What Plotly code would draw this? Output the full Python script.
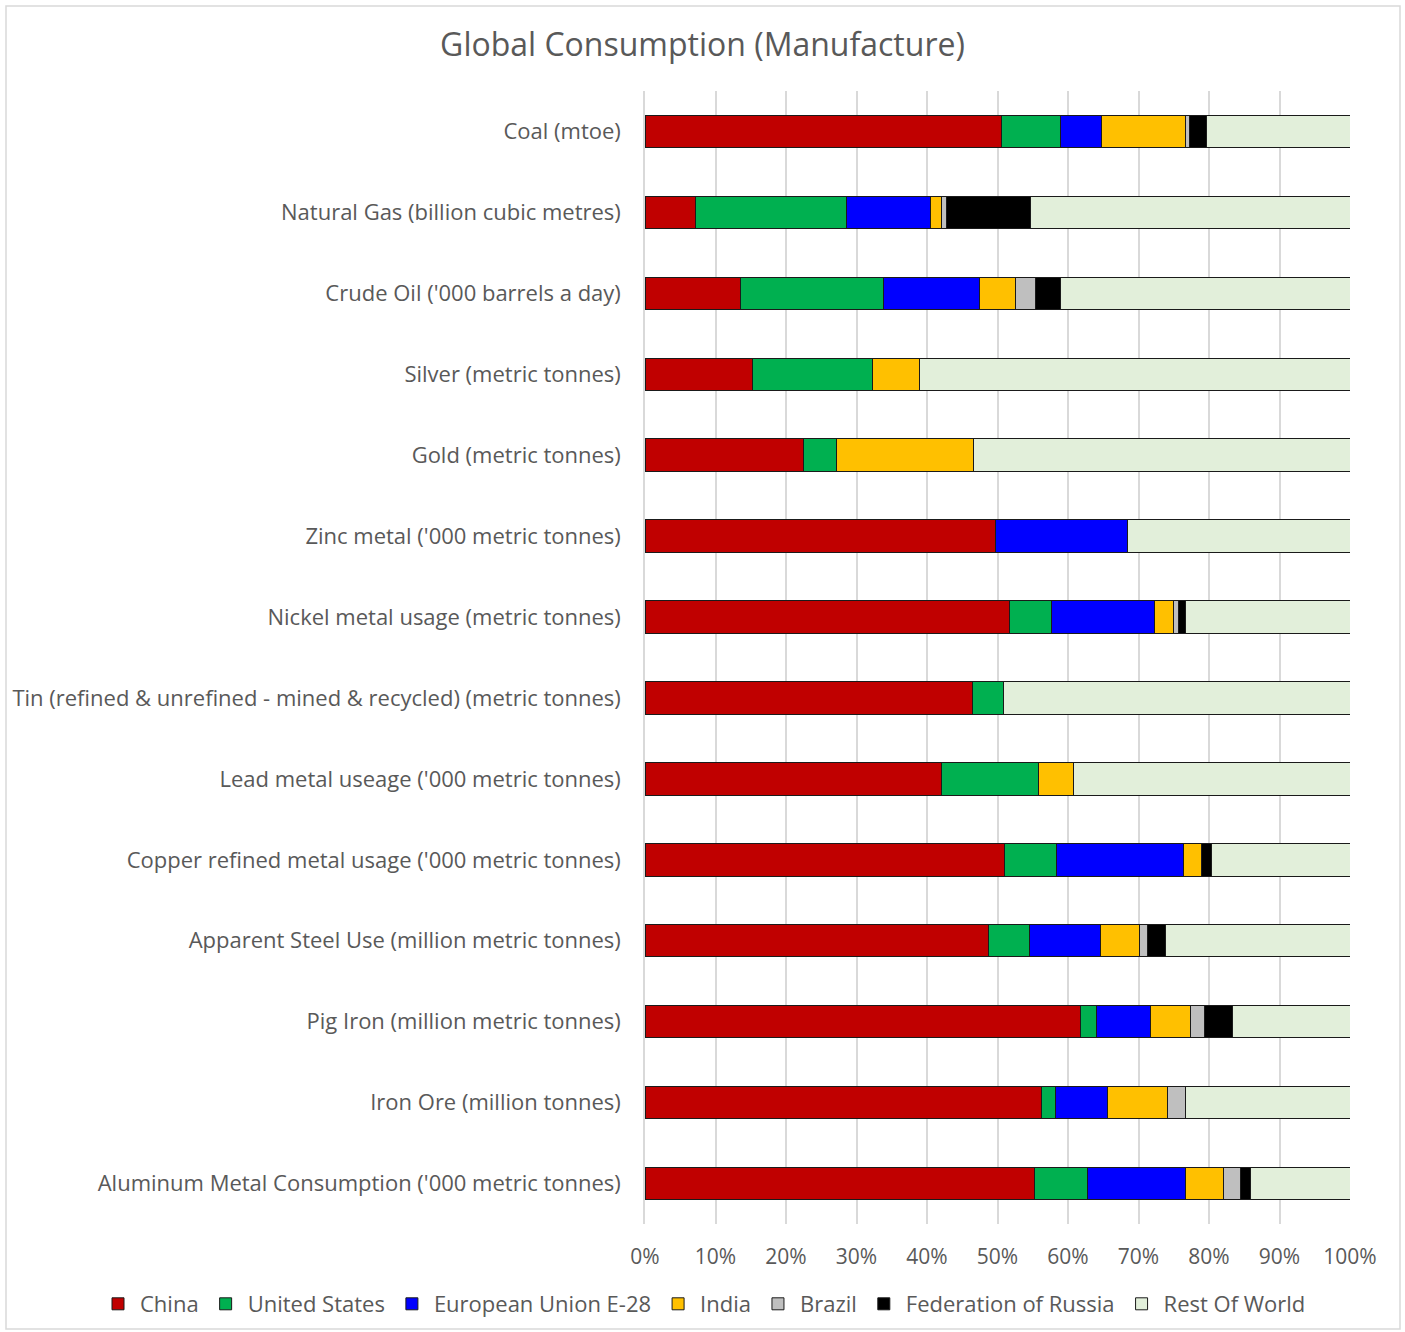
import plotly.graph_objects as go

categories = [
    "Coal (mtoe)",
    "Natural Gas (billion cubic metres)",
    "Crude Oil ('000 barrels a day)",
    "Silver (metric tonnes)",
    "Gold (metric tonnes)",
    "Zinc metal ('000 metric tonnes)",
    "Nickel metal usage (metric tonnes)",
    "Tin (refined & unrefined - mined & recycled) (metric tonnes)",
    "Lead metal useage ('000 metric tonnes)",
    "Copper refined metal usage ('000 metric tonnes)",
    "Apparent Steel Use (million metric tonnes)",
    "Pig Iron (million metric tonnes)",
    "Iron Ore (million tonnes)",
    "Aluminum Metal Consumption ('000 metric tonnes)",
]

china = [50.5, 7.2, 13.6, 15.2, 22.5, 49.7, 51.7, 46.5, 42.0, 51.0, 48.7, 61.8, 56.3, 55.2]
united_states = [8.4, 21.4, 20.3, 17.0, 4.6, 0.0, 5.9, 4.4, 13.8, 7.3, 5.9, 2.3, 1.9, 7.5]
european_union = [5.9, 11.9, 13.5, 0.0, 0.0, 18.8, 14.7, 0.0, 0.0, 18.1, 10.0, 7.6, 7.4, 14.0]
india = [11.9, 1.5, 5.1, 6.7, 19.5, 0.0, 2.7, 0.0, 5.0, 2.6, 5.5, 5.7, 8.5, 5.4]
brazil = [0.5, 0.8, 2.9, 0.0, 0.0, 0.0, 0.7, 0.0, 0.0, 0.0, 1.2, 1.9, 2.5, 2.3]
russia = [2.5, 11.9, 3.6, 0.0, 0.0, 0.0, 1.0, 0.0, 0.0, 1.3, 2.6, 4.0, 0.0, 1.5]
rest_of_world = [20.3, 45.3, 41.0, 61.1, 53.4, 31.5, 23.3, 49.1, 39.2, 19.7, 26.1, 16.7, 23.4, 14.1]

series_names = ["China", "United States", "European Union E-28", "India", "Brazil",
                "Federation of Russia", "Rest Of World"]
series_values = [china, united_states, european_union, india, brazil, russia, rest_of_world]
series_colors = ["#C00000", "#00B050", "#0000FF", "#FFC000", "#BFBFBF", "#000000", "#E2EFDA"]

tick_vals = [0, 10, 20, 30, 40, 50, 60, 70, 80, 90, 100]
tick_text = ["0%", "10%", "20%", "30%", "40%", "50%", "60%", "70%", "80%", "90%", "100%"]

FONT = "Open Sans"
TXT = "#595959"

fig = go.Figure()
for name, vals, col in zip(series_names, series_values, series_colors):
    fig.add_trace(go.Bar(
        y=categories, x=vals, name=name, orientation="h",
        marker=dict(color=col, line=dict(color="#1a1a1a", width=1)),
    ))

W, H = 1405, 1332
L, R, T, B = 645, 55, 91, 108
pw, ph = W - L - R, H - T - B

fig.update_layout(
    width=W, height=H,
    barmode="stack", bargap=0.6,
    plot_bgcolor="white", paper_bgcolor="white",
    margin=dict(l=L, r=R, t=T, b=B, autoexpand=False),
    font=dict(family=FONT, color=TXT, size=21),
    title=dict(text="Global Consumption (Manufacture)", x=0.5, xanchor="center",
               xref="container", y=1 - 45 / H, yanchor="middle",
               font=dict(size=32, color=TXT, family=FONT)),
    xaxis=dict(range=[0, 100], tickvals=tick_vals, ticktext=tick_text,
               showgrid=True, gridcolor="#D9D9D9", gridwidth=1.5, zeroline=False,
               showline=False, ticks="", ticklabelstandoff=18,
               tickfont=dict(size=21, color=TXT)),
    yaxis=dict(autorange="reversed", showgrid=False, showline=True, linecolor="#D9D9D9",
               linewidth=1.5, ticks="", ticklabelstandoff=18,
               tickfont=dict(size=22, color=TXT)),
    legend=dict(orientation="h", xref="paper", yref="paper",
                x=(96 - L) / pw, xanchor="left",
                y=-(1304 - T - ph) / ph, yanchor="middle",
                bgcolor="rgba(0,0,0,0)",
                font=dict(size=22, color=TXT), traceorder="normal", itemwidth=34),
    shapes=[dict(type="rect", xref="paper", yref="paper",
                 x0=(6 - L) / pw, x1=(1400 - L) / pw,
                 y0=-(1329 - T - ph) / ph, y1=1 + (T - 6) / ph,
                 line=dict(color="#D9D9D9", width=1.5), layer="below")],
)

fig.write_html("out.html", config={"displayModeBar": False},
               post_script="document.body.style.margin='0';")
